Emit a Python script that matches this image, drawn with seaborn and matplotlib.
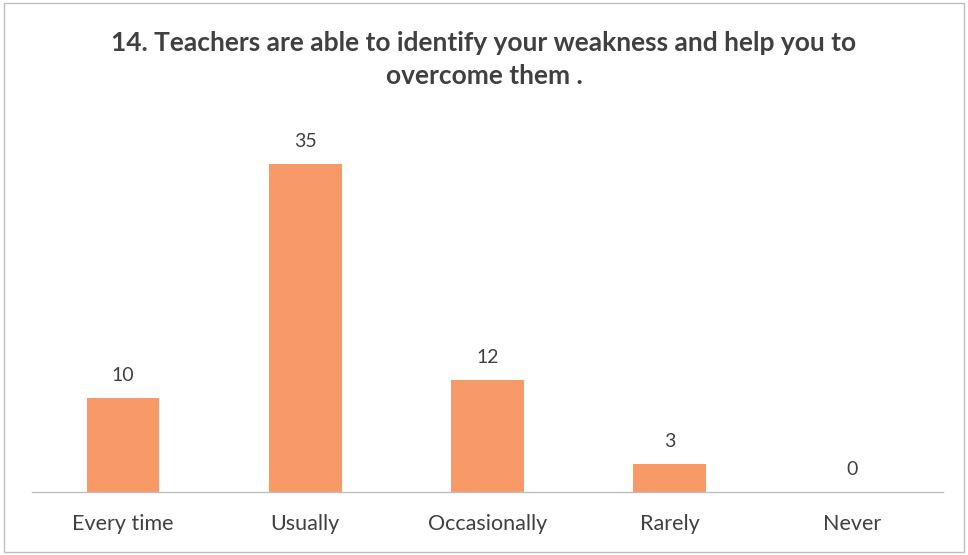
import matplotlib
matplotlib.use("Agg")
import matplotlib.pyplot as plt
import seaborn as sns
import pandas as pd
from matplotlib.patches import Rectangle

# Data
categories = ["Every time", "Usually", "Occasionally", "Rarely", "Never"]
counts = [10, 35, 12, 3, 0]
title = "14. Teachers are able to identify your weakness and help you to\novercome them ."

df = pd.DataFrame({"answer": categories, "count": counts})

sns.set_style("white")
plt.rcParams["font.family"] = ["Lato", "DejaVu Sans"]

fig = plt.figure(figsize=(9.68, 5.55), dpi=100)
ax = fig.add_axes([0.033, 0.1135, 0.941, 0.675])

sns.barplot(data=df, x="answer", y="count", color="#F79A68", saturation=1,
            width=0.4, linewidth=0, ax=ax)

ax.set_ylim(0, 40)
ax.set_xlim(-0.5, 4.5)
ax.set_xlabel("")
ax.set_ylabel("")
ax.set_yticks([])
ax.tick_params(axis="x", length=0, labelsize=15.5, labelcolor="#404040", pad=16)
for s in ["top", "left", "right"]:
    ax.spines[s].set_visible(False)
ax.spines["bottom"].set_color("#BFBFBF")
ax.spines["bottom"].set_linewidth(1)

for i, v in enumerate(counts):
    ax.text(i, v + 1.5, str(v), ha="center", va="bottom", fontsize=14, color="#404040")

fig.text(0.5, 0.893, title, ha="center", va="center", fontsize=19,
         fontweight="bold", color="#404040", linespacing=1.45)

# chart border
fig.patches.append(Rectangle((0.004, 0.006), 0.992, 0.988, transform=fig.transFigure,
                             fill=False, edgecolor="#BFBFBF", linewidth=1))

fig.savefig("out.png", dpi=100)
